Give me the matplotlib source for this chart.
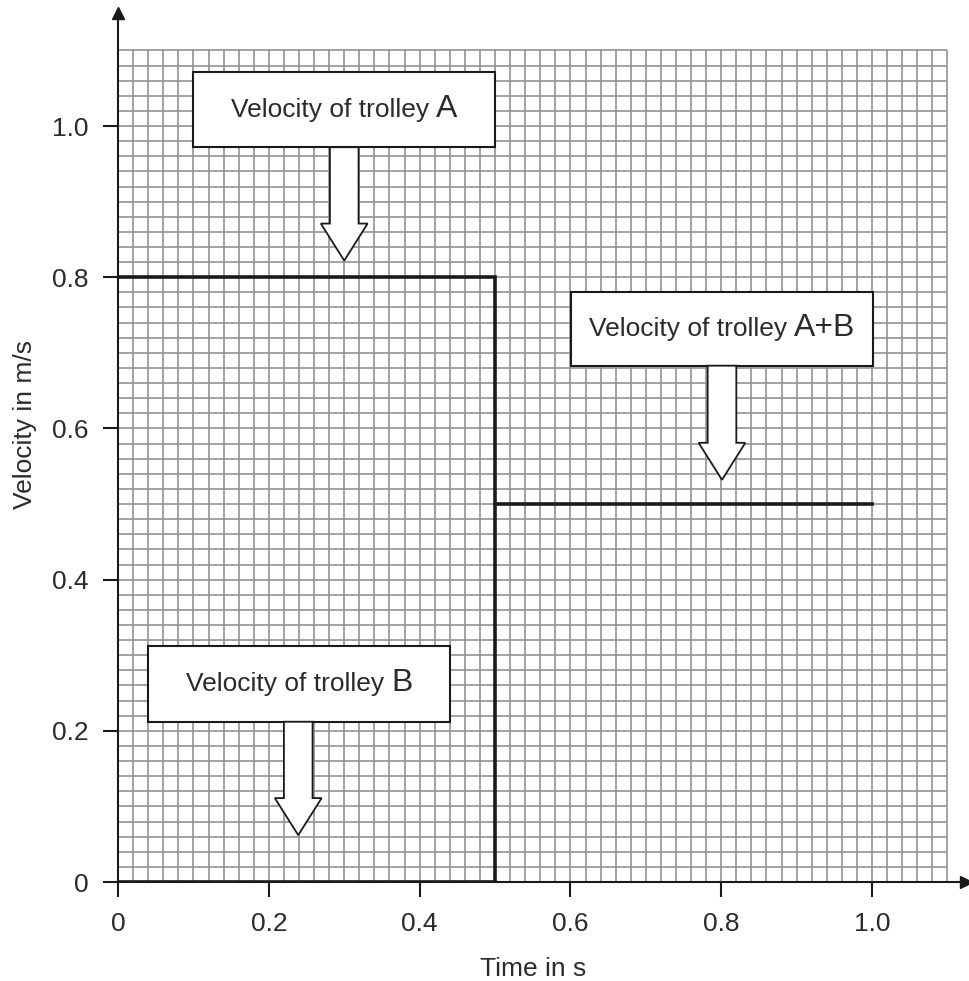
import numpy as np
import matplotlib.pyplot as plt
from matplotlib.patches import Rectangle, Polygon

# data
time_a = [0.0, 0.5, 0.5]
vel_a = [0.8, 0.8, 0.0]
time_b = [0.0, 0.5]
vel_b = [0.0, 0.0]
time_ab = [0.5, 1.0]
vel_ab = [0.5, 0.5]

x_ticks = [0, 0.2, 0.4, 0.6, 0.8, 1.0]
x_tick_labels = ['0', '0.2', '0.4', '0.6', '0.8', '1.0']
y_ticks = [0, 0.2, 0.4, 0.6, 0.8, 1.0]
y_tick_labels = ['0', '0.2', '0.4', '0.6', '0.8', '1.0']

# label boxes: (x0, y0, x1, y1), text, letter, arrow x, arrow tip y
boxes = [
    ((0.0995, 0.972, 0.500, 1.071), 'Velocity of trolley ', 'A', 0.300, 0.822),
    ((0.601, 0.683, 1.001, 0.781), 'Velocity of trolley ', 'A+B', 0.801, 0.532),
    ((0.040, 0.212, 0.440, 0.312), 'Velocity of trolley ', 'B', 0.239, 0.062),
]

plt.rcParams['font.family'] = ['Liberation Sans', 'DejaVu Sans']
txt_col = '#2b2b2b'

fig = plt.figure(figsize=(9.69, 9.81), dpi=100)
ax = fig.add_axes([0.1218, 0.1009, 0.8754, 0.8862])
ax.set_xlim(0, 1.125)
ax.set_ylim(0, 1.15)

# graph paper grid
g = np.arange(0, 1.1001, 0.02)
ax.vlines(g, 0, 1.1, color='#929292', lw=1.2, zorder=1)
ax.hlines(g, 0, 1.1, color='#929292', lw=1.2, zorder=1)

# velocity lines
ax.plot(time_a, vel_a, color='#1a1a1a', lw=2.6, zorder=4, solid_joinstyle='miter')
ax.plot(time_b, vel_b, color='#1a1a1a', lw=2.6, zorder=4)
ax.plot(time_ab, vel_ab, color='#1a1a1a', lw=2.6, zorder=4)

# spines with arrowheads
for s in ['top', 'right']:
    ax.spines[s].set_visible(False)
for s in ['left', 'bottom']:
    ax.spines[s].set_linewidth(1.5)
    ax.spines[s].set_color('#1a1a1a')
ax.plot(1, 0, '>', color='#1a1a1a', ms=9, transform=ax.transAxes, clip_on=False)
ax.plot(0, 1, '^', color='#1a1a1a', ms=9, transform=ax.transAxes, clip_on=False)

ax.set_xticks(x_ticks)
ax.set_xticklabels(x_tick_labels)
ax.set_yticks(y_ticks)
ax.set_yticklabels(y_tick_labels)
ax.tick_params(axis='x', length=10.5, width=1.5, pad=11, labelsize=19, labelcolor=txt_col, color='#1a1a1a')
ax.tick_params(axis='y', length=10.5, width=1.5, pad=11, labelsize=19, labelcolor=txt_col, color='#1a1a1a')

ax.set_xlabel('Time in s', fontsize=19, color=txt_col)
ax.xaxis.set_label_coords(0.55 / 1.125, -0.086)
ax.set_ylabel('Velocity in m/s', fontsize=19, color=txt_col)
ax.yaxis.set_label_coords(-0.096, 0.526)

# boxes with arrows
sw = 0.019   # half shaft width
hw = 0.031   # half head width
hl = 0.049   # head length
fig.canvas.draw()
r = fig.canvas.get_renderer()
for (x0, y0, x1, y1), small, big, ax_x, tip in boxes:
    ax.add_patch(Rectangle((x0, y0), x1 - x0, y1 - y0, facecolor='white',
                           edgecolor='#1a1a1a', lw=1.5, zorder=5))
    pts = [(ax_x - sw, y0), (ax_x + sw, y0), (ax_x + sw, tip + hl), (ax_x + hw, tip + hl),
           (ax_x, tip), (ax_x - hw, tip + hl), (ax_x - sw, tip + hl)]
    ax.add_patch(Polygon(pts, closed=True, facecolor='white', edgecolor='#1a1a1a',
                         lw=1.3, zorder=5))
    t1 = ax.text(0, 0, small, fontsize=19, color=txt_col, va='baseline', ha='left', zorder=6)
    t2 = ax.text(0, 0, big, fontsize=23, color=txt_col, va='baseline', ha='left', zorder=6)
    w1 = t1.get_window_extent(r).width
    w2 = t2.get_window_extent(r).width
    cx, cy = ax.transData.transform(((x0 + x1) / 2, (y0 + y1) / 2))
    start = cx - (w1 + w2) / 2
    base = cy - 7
    inv = ax.transData.inverted()
    t1.set_position(inv.transform((start, base)))
    t2.set_position(inv.transform((start + w1, base)))

fig.savefig('out.png', dpi=100)
